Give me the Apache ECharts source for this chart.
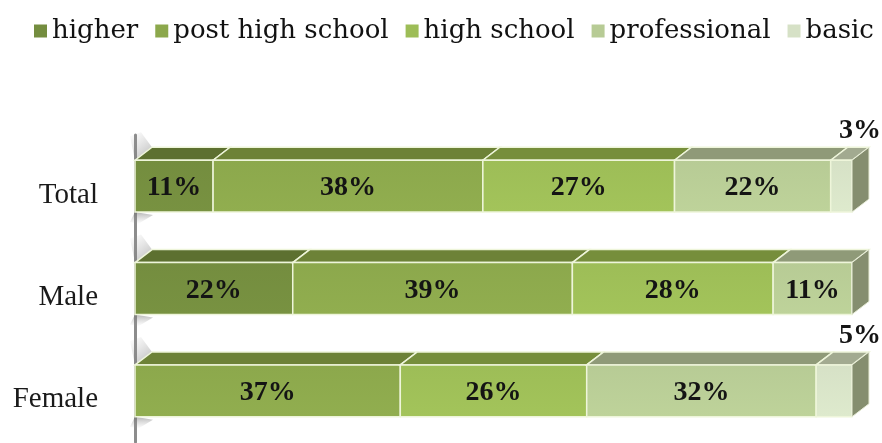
<!DOCTYPE html>
<html>
<head>
<meta charset="utf-8">
<script src="https://cdn.jsdelivr.net/npm/echarts@6/dist/echarts.min.js"></script>
<style>html,body{margin:0;padding:0;background:#fff}#c{width:882px;height:443px}</style>
</head>
<body>
<div id="c"></div>
<script>
const categories = ['Total', 'Male', 'Female'];
const seriesNames = ['higher', 'post high school', 'high school', 'professional', 'basic'];
const higher = [11, 22, 0];
const postHighSchool = [38, 39, 37];
const highSchool = [27, 28, 26];
const professional = [22, 11, 32];
const basic = [3, 0, 5];

const values = [higher, postHighSchool, highSchool, professional, basic];
const frontColors = ['#748d3f', '#8ca84c', '#9dbd57', '#b7cb95', '#d6e1c6'];
const topColors = ['#5d7030', '#6d8237', '#768e3b', '#8f9a78', '#a2aa90'];
const sideColor = '#858e6f';

const sums = categories.map((c, i) => values.reduce((a, v) => a + v[i], 0));
const lastIdx = categories.map((c, i) => {
  let l = -1; values.forEach((v, s) => { if (v[i] > 0) l = s; }); return l;
});

const series = seriesNames.map((name, s) => {
  const data = categories.map((c, i) => {
    let before = 0;
    for (let k = 0; k < s; k++) before += values[k][i];
    const start = before / sums[i] * 100;
    const end = (before + values[s][i]) / sums[i] * 100;
    return [start, end, i, values[s][i], lastIdx[i] === s ? 1 : 0];
  });
  return {
    type: 'custom',
    name: name,
    color: frontColors[s],
    encode: { x: [0, 1], y: 2 },
    data: data,
    z: 2,
    renderItem: function (params, api) {
      const start = api.value(0), end = api.value(1), cat = api.value(2);
      const raw = api.value(3), isLast = api.value(4);
      if (!raw) return null;
      const p0 = api.coord([start, cat]);
      const p1 = api.coord([end, cat]);
      const band = api.size([0, 1])[1];
      const h = band * 0.507;
      const x0 = p0[0], x1 = p1[0], yc = p0[1];
      const yt = yc - h / 2, yb = yc + h / 2;
      const dx = 17, dy = 13;
      const stroke = '#eef5da';
      const children = [];
      if (start === 0) {
        // wall shadow accents at the left end of each bar
        children.push({ type: 'polygon', shape: { points: [[x0 - 5, yt - 24], [x0 + 6, yt - 28], [x0 + dx, yt - dy], [x0, yt]] },
          style: { fill: new echarts.graphic.LinearGradient(0, 0, 1, 1, [{ offset: 0, color: 'rgba(160,160,160,0)' }, { offset: 1, color: 'rgba(110,110,110,0.5)' }]) } });
        children.push({ type: 'polygon', shape: { points: [[x0, yb], [x0 + 18, yb + 3], [x0 + 3, yb + 12], [x0 - 5, yb + 10]] },
          style: { fill: new echarts.graphic.LinearGradient(0, 0, 0, 1, [{ offset: 0, color: 'rgba(110,110,110,0.5)' }, { offset: 1, color: 'rgba(160,160,160,0)' }]) } });
      }
      children.push(
        { type: 'polygon', shape: { points: [[x0, yt], [x0 + dx, yt - dy], [x1 + dx, yt - dy], [x1, yt]] },
          style: { fill: topColors[s], stroke: stroke, lineWidth: 1.5 } },
        { type: 'rect', shape: { x: x0, y: yt, width: x1 - x0, height: h },
          style: { fill: new echarts.graphic.LinearGradient(0, 0, 0, 1, [
              { offset: 0, color: frontColors[s] }, { offset: 1, color: echarts.color.lift(frontColors[s], -0.04) }]),
            stroke: stroke, lineWidth: 1.5 } }
      );
      if (isLast) {
        children.push({ type: 'polygon', shape: { points: [[x1, yt], [x1 + dx, yt - dy], [x1 + dx, yb - dy], [x1, yb]] },
          style: { fill: sideColor, stroke: '#e8edd8', lineWidth: 1 } });
      }
      const small = raw < 8;
      children.push({
        type: 'text',
        style: {
          text: raw + '%',
          x: small ? x1 + 8 : (x0 + x1) / 2,
          y: small ? yt - 29 : yc + 2,
          align: 'center', verticalAlign: 'middle',
          font: 'bold 28px "Liberation Serif"', fill: '#141414'
        }
      });
      return { type: 'group', children: children };
    }
  };
});

const chart = echarts.init(document.getElementById('c'));
chart.setOption({
  animation: false,
  backgroundColor: '#ffffff',
  legend: {
    data: seriesNames,
    left: 34, top: 18, padding: 0,
    icon: 'rect', itemWidth: 13, itemHeight: 13, itemGap: 17,
    textStyle: { fontFamily: 'DejaVu Serif', fontSize: 26, color: '#111' }
  },
  grid: { left: 135, right: 30, top: 135, bottom: 1 },
  xAxis: { type: 'value', min: 0, max: 100, show: false },
  yAxis: {
    type: 'category', data: categories, inverse: true, offset: 10,
    axisLine: { show: true, lineStyle: { color: '#8c8c8c', width: 3 } },
    axisTick: { show: false },
    axisLabel: {
      margin: 27,
      formatter: function (v) { return '{a|' + v + '}'; },
      rich: { a: { fontFamily: 'Liberation Serif', fontSize: 29, color: '#1a1a1a', padding: [18, 0, 0, 0] } }
    }
  },
  series: series
});
</script>
</body>
</html>
